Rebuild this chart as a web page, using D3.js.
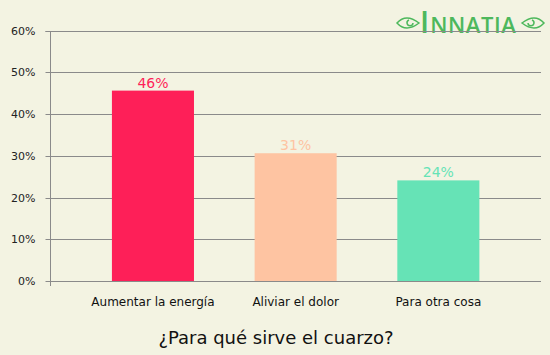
<!DOCTYPE html>
<html><head><meta charset="utf-8">
<script src="https://cdn.jsdelivr.net/npm/d3@7"></script>
<style>body{margin:0;background:#f3f3e2;}svg{display:block;font-family:"DejaVu Sans",Verdana,sans-serif;}</style>
</head><body>
<svg id="c" width="550" height="355"></svg>
<script>
const categories = ["Aumentar la energía", "Aliviar el dolor", "Para otra cosa"];
const values = [45.6, 30.6, 24.1];
const valueLabels = ["46%", "31%", "24%"];
const colors = ["#fe1f58", "#fec4a2", "#66e3b6"];
const yTicks = [0, 10, 20, 30, 40, 50, 60];
const title = "¿Para qué sirve el cuarzo?";

(function(){
const svg = d3.select("#c");
svg.append("rect").attr("width",550).attr("height",355).attr("fill","#f3f3e2");
const pLeft = 50, pRight = 541, pTop = 30.5, pBottom = 281;
const y = d3.scaleLinear().domain([0,60]).range([pBottom, pTop]);
const x = d3.scaleBand().domain(categories).range([81.6, 509.7]).paddingInner(0.425).paddingOuter(0.2125);

// grid
svg.append("g").selectAll("line").data(yTicks).join("line")
  .attr("x1", pLeft).attr("x2", pRight)
  .attr("y1", d=>Math.round(y(d))+0.5).attr("y2", d=>Math.round(y(d))+0.5)
  .attr("stroke","#8a8a8a").attr("stroke-width",1);

// logo
const green = "#4db85c";
const lg = svg.append("g").attr("fill","none").attr("stroke",green).attr("stroke-width",1.5);
lg.append("path").attr("d","M397,23 Q406,13 419,23 Q406,33 397,23 Z");
lg.append("path").attr("d","M413,23 a3,3 0 1,1 -4,-3");
lg.append("path").attr("d","M544,23 Q535,13 522,23 Q535,33 544,23 Z");
lg.append("path").attr("d","M528,23 a3,3 0 1,0 4,-3");
const lt = svg.append("text").attr("x",420).attr("y",33).attr("fill",green)
  .attr("font-family","Open Sans, sans-serif").attr("font-weight","600");
lt.append("tspan").attr("font-size","30px").text("I");
lt.append("tspan").attr("font-size","22px").attr("dx","1").attr("letter-spacing","0.6").text("NNATIA");
svg.append("line").attr("x1",397).attr("x2",pRight).attr("y1",Math.round(y(60))+0.5).attr("y2",Math.round(y(60))+0.5)
  .attr("stroke","#8a8a8a").attr("stroke-width",1);

// y axis
const ya = svg.append("g").attr("transform",`translate(${pLeft+0.5},0)`)
  .call(d3.axisLeft(y).tickValues(yTicks).tickFormat(d=>d+"%").tickSize(5).tickPadding(10));
ya.select(".domain").attr("stroke","#8a8a8a").attr("d",`M-5,${Math.round(pTop)+0.5}H0V${pBottom+5}`);
ya.selectAll(".tick line").attr("stroke","#8a8a8a");
ya.selectAll(".tick text").attr("fill","#222").attr("font-size","11px").attr("font-family","DejaVu Sans, sans-serif");
ya.selectAll(".tick").attr("transform", d=>`translate(0,${Math.round(y(d))+0.5})`);

// bars
svg.append("g").selectAll("rect").data(categories).join("rect")
  .attr("x", d=>x(d)).attr("width", x.bandwidth())
  .attr("y", (d,i)=>y(values[i])).attr("height",(d,i)=>pBottom-y(values[i]))
  .attr("fill",(d,i)=>colors[i]);

// value labels
svg.append("g").selectAll("text").data(categories).join("text")
  .attr("x", d=>x(d)+x.bandwidth()/2).attr("y",(d,i)=>y(values[i])-3)
  .attr("text-anchor","middle").attr("font-size","14px")
  .attr("fill",(d,i)=>colors[i]).text((d,i)=>valueLabels[i]);

// category labels
svg.append("g").selectAll("text").data(categories).join("text")
  .attr("x", d=>x(d)+x.bandwidth()/2).attr("y",306)
  .attr("text-anchor","middle").attr("font-size","12px").attr("fill","#111").text(d=>d);

// title
svg.append("text").attr("x",276).attr("y",344).attr("text-anchor","middle")
  .attr("font-size","18px").attr("fill","#111").text(title);
})();
</script>
</body></html>
